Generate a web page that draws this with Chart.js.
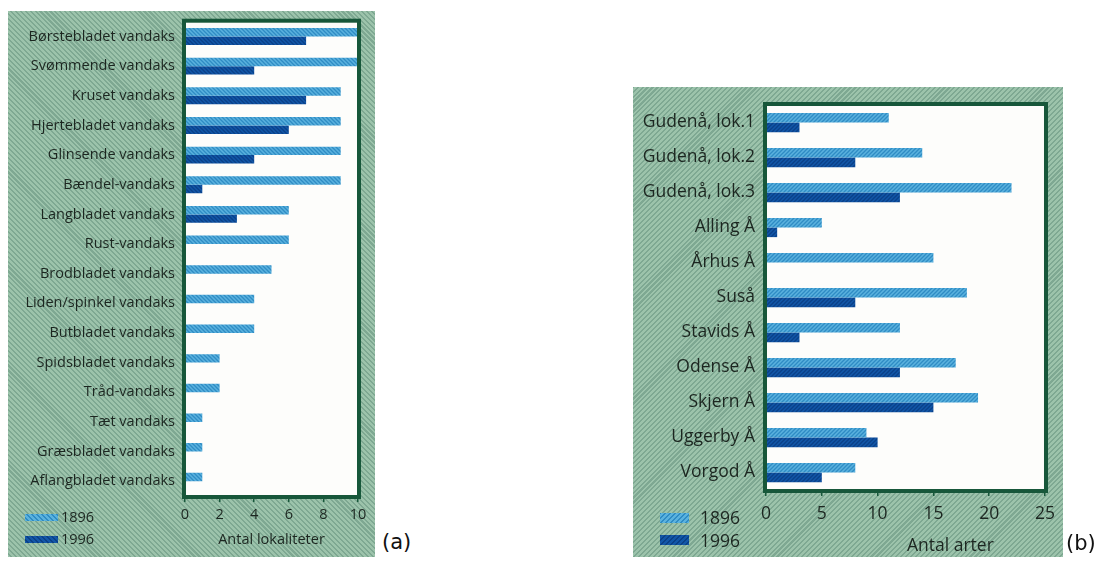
<!DOCTYPE html>
<html>
<head>
<meta charset="utf-8">
<script src="https://cdn.jsdelivr.net/npm/chart.js@4.4.1/dist/chart.umd.min.js"></script>
<style>
  body { margin: 0; background: #fff; width: 1108px; height: 562px; position: relative; overflow: hidden; font-family: 'Open Sans', sans-serif; color: #1c2620; }
  .panel { position: absolute; }
  #panelA { left: 8px; top: 11px; width: 367px; height: 546px;
    background: repeating-linear-gradient(45deg, #9cc3ab 0 2px, #7ea892 2px 3.5px); }
  #panelB { left: 633px; top: 87px; width: 430px; height: 470px;
    background: repeating-linear-gradient(-45deg, #9cc3ab 0 2px, #7ea892 2px 3.5px); }
  .sw { position: absolute; }
  .lt { position: absolute; white-space: nowrap; }
  .tag { position: absolute; font-family: 'DejaVu Sans', sans-serif; font-size: 21px; color: #111; }
</style>
</head>
<body>
<div class="panel" id="panelA"><canvas id="chartA" width="367" height="546"></canvas></div>
<div class="panel" id="panelB"><canvas id="chartB" width="430" height="470"></canvas></div>

<!-- legends -->
<div class="sw" style="left:25px;top:514px;width:33px;height:7px;background:repeating-linear-gradient(45deg,#5ab2de 0 2px,#2f8cc4 2px 3.5px)"></div>
<div class="lt" style="left:61px;top:507px;font-size:14.5px">1896</div>
<div class="sw" style="left:25px;top:536px;width:33px;height:7px;background:repeating-linear-gradient(45deg,#1257a8 0 2px,#0a4088 2px 3.5px)"></div>
<div class="lt" style="left:61px;top:529px;font-size:14.5px">1996</div>
<div class="tag" style="left:382px;top:530px">(a)</div>

<div class="sw" style="left:660px;top:513px;width:29px;height:10px;background:repeating-linear-gradient(-45deg,#5ab2de 0 2px,#2f8cc4 2px 3.5px)"></div>
<div class="lt" style="left:700px;top:505px;font-size:17.5px">1896</div>
<div class="sw" style="left:660px;top:535px;width:29px;height:10px;background:repeating-linear-gradient(-45deg,#1257a8 0 2px,#0a4088 2px 3.5px)"></div>
<div class="lt" style="left:700px;top:528px;font-size:17.5px">1996</div>
<div class="lt" style="left:907px;top:532px;font-size:17.5px">Antal arter</div>
<div class="tag" style="left:1066px;top:531px">(b)</div>

<script>
// (a) vandaks-arter, antal lokaliteter
const speciesA = [
  "Børstebladet vandaks", "Svømmende vandaks", "Kruset vandaks", "Hjertebladet vandaks",
  "Glinsende vandaks", "Bændel-vandaks", "Langbladet vandaks", "Rust-vandaks",
  "Brodbladet vandaks", "Liden/spinkel vandaks", "Butbladet vandaks", "Spidsbladet vandaks",
  "Tråd-vandaks", "Tæt vandaks", "Græsbladet vandaks", "Aflangbladet vandaks"
];
const a1896 = [10, 10, 9, 9, 9, 9, 6, 6, 5, 4, 4, 2, 2, 1, 1, 1];
const a1996 = [7, 4, 7, 6, 4, 1, 3, 0, 0, 0, 0, 0, 0, 0, 0, 0];
const ticksA = [0, 2, 4, 6, 8, 10];

// (b) vandløb, antal arter
const riversB = [
  "Gudenå, lok.1", "Gudenå, lok.2", "Gudenå, lok.3", "Alling Å", "Århus Å", "Suså",
  "Stavids Å", "Odense Å", "Skjern Å", "Uggerby Å", "Vorgod Å"
];
const b1896 = [11, 14, 22, 5, 15, 18, 12, 17, 19, 9, 8];
const b1996 = [3, 8, 12, 1, 0, 8, 3, 12, 15, 10, 5];
const ticksB = [0, 5, 10, 15, 20, 25];

function hatch(base, line, slash) {
  const c = document.createElement('canvas');
  c.width = 4; c.height = 4;
  const g = c.getContext('2d');
  g.fillStyle = base;
  g.fillRect(0, 0, 4, 4);
  g.strokeStyle = line;
  g.lineWidth = 1.3;
  g.beginPath();
  if (slash) {
    g.moveTo(-1, 5); g.lineTo(5, -1);
    g.moveTo(-1, 1); g.lineTo(1, -1);
    g.moveTo(3, 5); g.lineTo(5, 3);
  } else {
    g.moveTo(-1, -1); g.lineTo(5, 5);
    g.moveTo(-1, 3); g.lineTo(1, 5);
    g.moveTo(3, -1); g.lineTo(5, 1);
  }
  g.stroke();
  return g.createPattern(c, 'repeat');
}

// white plot area with a heavy dark green frame
const plotBox = {
  id: 'plotBox',
  beforeDraw(chart) {
    const a = chart.chartArea, ctx = chart.ctx;
    ctx.save();
    ctx.fillStyle = '#fdfdfb';
    ctx.fillRect(a.left, a.top, a.right - a.left, a.bottom - a.top);
    ctx.restore();
  },
  afterDatasetsDraw(chart) {
    const a = chart.chartArea, ctx = chart.ctx;
    ctx.save();
    ctx.strokeStyle = '#17573a';
    ctx.lineWidth = 4;
    ctx.strokeRect(a.left - 1, a.top - 1, a.right - a.left + 2, a.bottom - a.top + 2);
    ctx.restore();
  }
};

function makeChart(id, labels, v1, v2, tickVals, opt) {
  const ctx = document.getElementById(id).getContext('2d');
  return new Chart(ctx, {
    type: 'bar',
    data: {
      labels: labels,
      datasets: [
        { label: '1896', data: v1, backgroundColor: hatch('#5ab2de', '#2f8cc4', opt.slash), borderWidth: 0 },
        { label: '1996', data: v2, backgroundColor: hatch('#1257a8', '#0a4088', opt.slash), borderWidth: 0 }
      ]
    },
    options: {
      indexAxis: 'y',
      responsive: false,
      animation: false,
      events: [],
      layout: { padding: { top: opt.padTop, right: opt.padRight, left: 0, bottom: 0 } },
      datasets: { bar: { barPercentage: 1, categoryPercentage: opt.catPct } },
      plugins: { legend: { display: false }, tooltip: { enabled: false } },
      scales: {
        x: {
          min: tickVals[0],
          max: tickVals[tickVals.length - 1],
          afterBuildTicks: (s) => { s.ticks = tickVals.map(v => ({ value: v })); },
          afterFit: (s) => { s.height = opt.xHeight; },
          grid: { drawOnChartArea: false, drawTicks: true, tickLength: 6, color: '#17573a', lineWidth: 1.5 },
          border: { display: false },
          ticks: { color: '#1c2620', font: { family: 'Open Sans', size: opt.fs }, padding: opt.tickPad, maxRotation: 0 },
          title: opt.xTitle ? { display: true, text: opt.xTitle, color: '#1c2620', font: { family: 'Open Sans', size: opt.fs }, padding: { top: 2, bottom: 8 } } : { display: false }
        },
        y: {
          afterFit: (s) => { s.width = opt.yWidth; },
          grid: { display: false },
          border: { display: false },
          ticks: { color: '#1c2620', font: { family: 'Open Sans', size: opt.fs }, padding: opt.yPad, autoSkip: false }
        }
      }
    },
    plugins: [plotBox]
  });
}

makeChart('chartA', speciesA, a1896, a1996, ticksA, {
  slash: false, padTop: 3, padRight: 17, catPct: 0.57, xHeight: 61, yWidth: 177,
  fs: 14.5, tickPad: 4, yPad: 2, xTitle: 'Antal lokaliteter'
});
makeChart('chartB', riversB, b1896, b1996, ticksB, {
  slash: true, padTop: 18, padRight: 14, catPct: 0.55, xHeight: 67, yWidth: 133,
  fs: 17.5, tickPad: 8, yPad: 3, xTitle: null
});
</script>
</body>
</html>
